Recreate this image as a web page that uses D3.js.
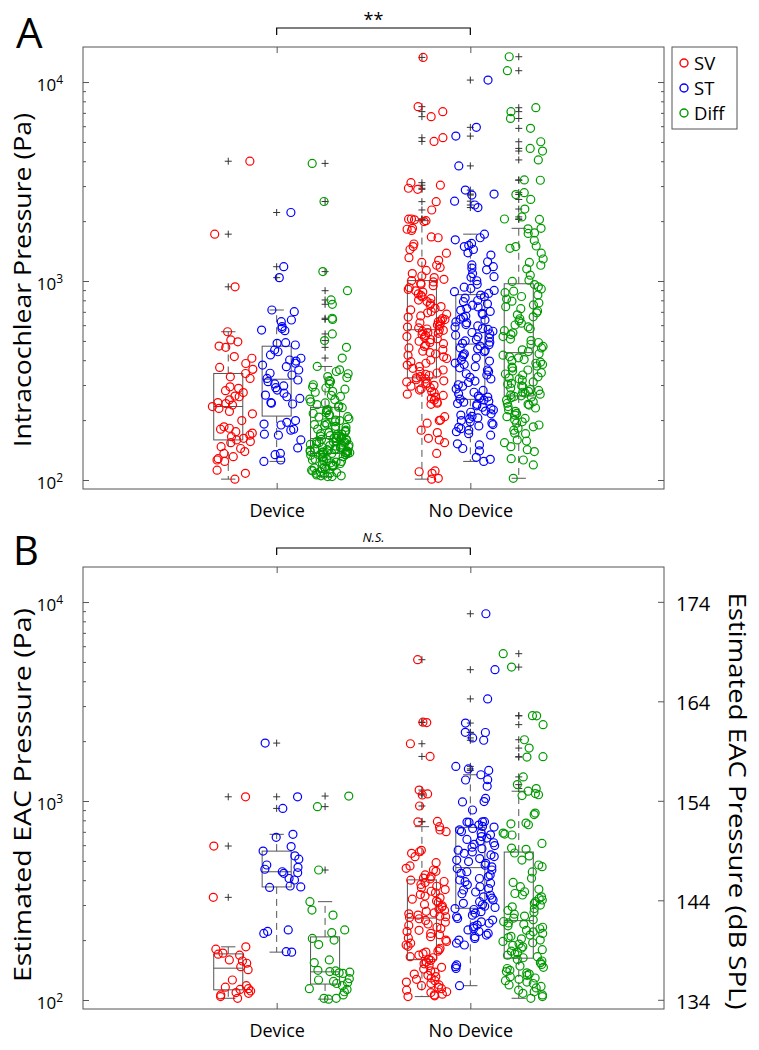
<!DOCTYPE html>
<html>
<head>
<meta charset="utf-8">
<script src="https://cdn.jsdelivr.net/npm/d3@7"></script>
<style>
  body { margin: 0; background: #fff; }
  text { font-family: "Open Sans", "DejaVu Sans", sans-serif; fill: #000; }
</style>
</head>
<body>
<svg id="fig" width="759" height="1050"></svg>
<script>
// ---- data (Pa) ----
var groups = ["Device", "No Device"];
var series = ["SV", "ST", "Diff"];
var colors = ["#ff0000", "#0000ff", "#009900"];
var yTicks = [100, 1000, 10000];
var dbTicks = [134, 144, 154, 164, 174];

// panel A : intracochlear pressure
var aDevSV = [4000, 1720, 935, 556, 506, 495, 471, 464, 417, 409, 385, 368, 360, 343, 330, 324, 294, 289, 281, 275,
  264, 262, 253, 245, 242, 238, 234, 229, 221, 215, 199, 185, 182, 180, 175, 172, 168, 165, 162, 159, 156, 154, 147,
  144, 139, 136, 131, 128, 126, 124, 112, 108, 101];
var aDevST = [2210, 1180, 1040, 715, 701, 637, 625, 590, 578, 567, 563, 490, 486, 477, 450, 441, 425, 409, 401, 396,
  386, 378, 371, 357, 344, 337, 324, 318, 312, 304, 297, 291, 283, 273, 267, 262, 257, 245, 243, 241, 199, 195, 191,
  189, 180, 178, 170, 168, 159, 145, 136, 134, 126, 124];
var aDevDiff = [3900, 2510, 1115, 894, 803, 764, 650, 641, 542, 502, 464, 410,
  372, 358, 351, 342, 331, 327, 316, 313, 304, 301, 293, 290, 286, 279, 276, 266, 263, 255, 253, 247, 244, 239, 236,
  232, 231, 226, 224, 223, 218, 216, 213, 212, 208, 207, 203, 200, 199, 196, 194, 191, 190, 188, 186, 184, 181, 180,
  178, 176, 175, 173, 171, 170, 169, 167, 166, 165, 164, 163, 162,
  161, 160, 160, 158, 157, 156, 155, 155, 154, 153, 152, 151, 150, 150, 149, 148, 147, 146, 146, 145, 144, 143, 142,
  142, 141, 140, 140, 139, 139, 138, 138, 137, 137, 137, 136, 136,
  135, 134, 133, 133, 131, 130, 129, 128, 127, 126, 125, 124, 123, 122, 121, 120, 119, 118, 117, 116, 115, 114, 113,
  112, 111, 110, 109, 108, 108, 107, 106, 105, 105, 104, 104];
var aNoSV = [13300, 7520, 7100, 6700, 5250, 5030, 3120, 3030, 2925, 2890, 2505, 2275,
  2050, 2045, 2030, 2010, 1990, 1840, 1820, 1795, 1665, 1650, 1535, 1490, 1440, 1380, 1310, 1270, 1240, 1200, 1170,
  1130, 1090, 1060, 1040, 1020, 1005,
  990, 975, 962, 948, 925, 907, 893, 880, 861, 846, 832, 815, 802, 788, 771, 757, 744, 729, 716, 703, 692, 681, 668,
  659, 647, 640, 631, 624, 617, 608, 601, 594, 587, 581, 574, 569, 565,
  558, 551, 546, 539, 533, 526, 521, 513, 507, 498, 491, 484, 477, 469, 461, 452, 444, 437, 430, 423, 416, 408, 401,
  393, 386, 378, 371, 364, 357, 351, 345, 340, 335, 331, 326, 322, 319,
  315, 311, 307, 304, 299, 296, 291, 287, 283, 278, 274, 270, 266, 261, 257, 252, 246, 243, 240, 208, 200, 199, 193,
  178, 173, 162, 159, 154, 136, 111, 110, 108, 102, 101];
var aNoST = [10230, 5920, 5350, 3790, 2863, 2735, 2704, 2520, 2410, 2340,
  1720, 1650, 1610, 1545, 1510, 1490, 1440, 1385, 1350, 1250, 1205, 1180, 1160, 1138, 1090, 1052, 1045, 1003, 962,
  931, 918, 897, 884, 866,
  850, 833, 821, 798, 787, 768, 756, 741, 727, 712, 703, 688, 679, 667, 656, 644, 636, 623, 617, 604, 595, 588, 577,
  571, 559, 551, 542, 534, 524, 517, 507, 500, 493, 486,
  478, 471, 461, 456, 447, 441, 431, 426, 417, 411, 401, 396, 387, 381, 371, 366, 357, 351, 342, 337, 328, 322, 314,
  309, 301, 296, 287, 282, 276, 271, 264, 261, 258, 255,
  252, 249, 246, 242, 240, 236, 232, 229, 225, 222, 219, 215, 212, 209, 205, 203, 199, 196, 193, 190, 187, 184, 181,
  178, 175, 171, 168, 152, 150, 144, 140, 130, 127, 124];
var aNoDiff = [13400, 11400, 7430, 7100, 6560, 5850, 5010, 4640, 4500, 4060, 3220, 3210, 2780, 2720, 2570, 2300, 2100,
  2050, 2040,
  1840, 1830, 1745, 1735, 1600, 1500, 1490, 1460, 1380, 1290, 1240, 1200, 1150, 1070, 1010, 995, 960,
  935, 912, 889, 874, 851, 836, 811, 792, 776, 758, 743, 726, 707, 692, 676, 661, 646, 631, 614, 601, 588, 576, 563,
  549, 538, 526, 511, 502, 491, 481, 469, 461, 451, 442, 431, 424,
  416, 411, 403, 398, 391, 386, 381, 374, 369, 365, 357, 353, 346, 341, 337, 330, 326, 322, 317, 311, 306, 303, 297,
  294, 290, 285, 282, 279, 276, 273, 270, 268, 265, 263, 261, 259,
  252, 247, 243, 240, 238, 234, 230, 225, 221, 216, 212, 208, 204, 200, 196, 193, 189, 185, 182, 178, 172, 171, 159,
  157, 154, 147, 142, 139, 128, 126, 119, 102];

// panel B : estimated ear canal pressure
var bDevSV = [1050, 594, 328, 185, 180, 172, 170, 168, 159, 157, 153, 147, 142, 126, 118, 116, 114, 113, 111, 109,
  108, 106, 104, 102];
var bDevST = [1955, 1050, 918, 680, 657, 590, 560, 530, 510, 477, 464, 454, 441, 436, 433, 408, 401, 374, 370, 368,
  225, 221, 216, 175, 174];
var bDevDiff = [1059, 937, 450, 312, 283, 267, 225, 218, 204, 200, 190, 159, 154, 141, 140, 139, 138, 137, 136, 128,
  126, 124, 122, 121, 118, 114, 113, 110, 106, 102, 102, 101];
var bNoSV = [5130, 2490, 2480, 1940, 1675, 1135, 1085, 1072, 944, 790, 785,
  743, 715, 701, 565, 556, 546, 525, 490, 472, 459, 450, 443, 425, 417, 410, 406,
  400, 394, 389, 381, 373, 367, 359, 352, 346, 339, 333, 326, 321, 314, 309, 302, 297, 293, 287, 282, 279, 274, 271,
  267, 264, 262, 260,
  256, 251, 246, 241, 237, 232, 229, 224, 221, 216, 213, 208, 205, 200, 197, 193, 189, 186, 182, 179, 176, 174, 171,
  168, 165, 163, 160,
  158, 155, 152, 149, 146, 143, 140, 138, 135, 133, 131, 129, 127, 125, 123, 121, 119, 118, 116, 114, 112, 110, 109,
  107, 106, 105, 104];
var bNoST = [8730, 4570, 3260, 2465, 2215, 2210, 2075, 2020, 1493, 1450, 1425,
  1355, 1280, 1275, 1186, 1030, 993, 990, 901, 787, 786, 784, 781, 757, 745, 740,
  728, 716, 702, 689, 676, 663, 651, 641, 629, 617, 606, 597, 586, 576, 566, 555, 546, 536, 526, 514, 505, 496, 486,
  476, 467, 458,
  450, 441, 433, 425, 417, 408, 401, 393, 386, 379, 371, 363, 357, 349, 342, 336, 330, 325, 318, 312, 306, 301, 296,
  292, 288, 285,
  278, 273, 267, 262, 257, 252, 247, 243, 238, 234, 229, 225, 221, 216, 212, 208, 204, 200, 193, 189, 150, 147, 144,
  118];
var bNoDiff = [5500, 4710, 2685, 2680, 2420, 2032, 1845, 1670, 1663, 1322, 1209,
  1155, 1120, 1090, 1075, 1065, 870, 855, 775, 768, 760, 690, 682, 675, 612, 580, 572,
  548, 530, 505, 477, 468, 440, 409, 390, 371, 360, 350, 343, 337, 330, 324, 318, 312, 306, 300, 294, 288, 282, 276,
  270, 264, 258, 253,
  248, 244, 240, 236, 232, 228, 224, 220, 216, 212, 209, 206, 203, 200, 197, 194, 191, 188, 185, 182, 179, 176, 173,
  170, 168, 165, 163,
  160, 157, 154, 151, 148, 146, 144, 141, 139, 137, 135, 133, 131, 129, 127, 125, 123, 121, 119, 117, 115, 112, 110,
  108, 106, 104, 102];

// ---- layout ----
var svg = d3.select("#fig");
var axisCol = "#555";
var x = d3.scaleLinear().domain([0, 3]).range([83, 664]);
var offsets = [-0.25, 0, 0.25];
var boxHalf = 0.075, capHalf = 0.037;

var panels = [
  { top: 47, bottom: 489, tag: "A", tagX: 16, ylab: "Intracochlear Pressure (Pa)", ylabY: 280, ylabLen: 334,
    sig: "**", sets: [[aDevSV, aDevST, aDevDiff], [aNoSV, aNoST, aNoDiff]], legend: true, dB: false },
  { top: 567, bottom: 1009, tag: "B", tagX: 13, ylab: "Estimated EAC Pressure (Pa)", ylabY: 795, ylabLen: 374,
    sig: "N.S.", sets: [[bDevSV, bDevST, bDevDiff], [bNoSV, bNoST, bNoDiff]], legend: false, dB: true }
];

function boxStats(vals) {
  var s = vals.slice().sort(d3.ascending);
  var q1 = d3.quantile(s, 0.25), med = d3.quantile(s, 0.5), q3 = d3.quantile(s, 0.75);
  var iqr = q3 - q1;
  var inside = s.filter(function(v) { return v >= q1 - 1.5 * iqr && v <= q3 + 1.5 * iqr; });
  return { q1: q1, med: med, q3: q3, lo: d3.min(inside), hi: d3.max(inside),
           out: s.filter(function(v) { return v < q1 - 1.5 * iqr || v > q3 + 1.5 * iqr; }) };
}

function minorTicks() {
  var t = [];
  [100, 1000].forEach(function(b) { for (var k = 2; k <= 9; k++) t.push(b * k); });
  return t;
}

// deterministic horizontal scatter (hash of the point index), position only
function spread(i, key) {
  var h = Math.sin((i + 1) * 12.9898 + key * 78.233) * 43758.5453;
  return h - Math.floor(h);
}

panels.forEach(function(p, pi) {
  var g = svg.append("g");
  var y = d3.scaleLog().domain([90.1, 15000]).range([p.bottom, p.top]);

  // frame
  g.append("rect").attr("x", x(0)).attr("y", p.top)
    .attr("width", x(3) - x(0)).attr("height", p.bottom - p.top)
    .attr("fill", "none").attr("stroke", axisCol).attr("stroke-width", 1);

  // left axis: minor + major
  g.append("g").attr("transform", "translate(" + x(0) + ",0)")
    .call(d3.axisLeft(y).tickValues(minorTicks()).tickSizeInner(-3).tickSizeOuter(0).tickFormat(""));
  var lMajor = g.append("g").attr("transform", "translate(" + x(0) + ",0)")
    .call(d3.axisLeft(y).tickValues(yTicks).tickSizeInner(-6).tickSizeOuter(0).tickPadding(20)
      .tickFormat(function() { return "10"; }));
  lMajor.selectAll(".tick text")
    .attr("dy", "0.5em").style("font-size", "17px").style("font-family", "Open Sans")
    .append("tspan").attr("dy", "-0.62em").style("font-size", "12px")
    .text(function(d) { return Math.round(Math.log10(d)); });

  // right axis
  if (!p.dB) {
    g.append("g").attr("transform", "translate(" + x(3) + ",0)")
      .call(d3.axisRight(y).tickValues(minorTicks()).tickSizeInner(-3).tickSizeOuter(0).tickFormat(""));
    g.append("g").attr("transform", "translate(" + x(3) + ",0)")
      .call(d3.axisRight(y).tickValues(yTicks).tickSizeInner(-6).tickSizeOuter(0).tickFormat(""));
  } else {
    var db = d3.scaleLinear()
      .domain([20 * Math.log10(90.1 / 2e-5), 20 * Math.log10(15000 / 2e-5)])
      .range([p.bottom, p.top]);
    var r = g.append("g").attr("transform", "translate(" + x(3) + ",0)")
      .call(d3.axisRight(db).tickValues(dbTicks).tickSizeInner(-6).tickSizeOuter(0).tickPadding(12));
    r.selectAll(".tick text").attr("dy", "0.42em").style("font-size", "20px").style("font-family", "Open Sans");
    g.append("text")
      .attr("transform", "translate(729,801) rotate(90)")
      .attr("text-anchor", "middle").style("font-size", "24px")
      .attr("textLength", 417).attr("lengthAdjust", "spacingAndGlyphs")
      .text("Estimated EAC Pressure (dB SPL)");
  }

  // x axes
  var xb = g.append("g").attr("transform", "translate(0," + p.bottom + ")")
    .call(d3.axisBottom(x).tickValues([1, 2]).tickSizeInner(-6).tickSizeOuter(0).tickPadding(15)
      .tickFormat(function(d) { return groups[d - 1]; }));
  xb.selectAll(".tick text").style("font-size", "18px").style("font-family", "Open Sans");
  g.append("g").attr("transform", "translate(0," + p.top + ")")
    .call(d3.axisTop(x).tickValues([1, 2]).tickSizeInner(-6).tickSizeOuter(0).tickFormat(""));

  g.selectAll(".domain").remove();
  g.selectAll(".tick line").attr("stroke", axisCol);

  // y label and panel tag
  g.append("text")
    .attr("transform", "translate(31," + p.ylabY + ") rotate(-90)")
    .attr("text-anchor", "middle").style("font-size", "24px")
    .attr("textLength", p.ylabLen).attr("lengthAdjust", "spacingAndGlyphs")
    .text(p.ylab);
  g.append("text").attr("x", p.tagX).attr("y", p.top + (p.dB ? -2 : 1))
    .style("font-size", p.dB ? "40px" : "42px").text(p.tag);

  // significance bracket
  g.append("path")
    .attr("d", "M" + x(1) + "," + (p.top - 12) + "V" + (p.top - 19) + "H" + x(2) + "V" + (p.top - 12))
    .attr("fill", "none").attr("stroke", "#000").attr("stroke-width", 1.2);
  g.append("text").attr("x", (x(1) + x(2)) / 2).attr("y", p.dB ? p.top - 25 : p.top - 21)
    .attr("text-anchor", "middle")
    .style("font-size", p.dB ? "13px" : "18px").style("font-style", p.dB ? "italic" : "normal")
    .text(p.sig);

  // box plots + scattered points
  p.sets.forEach(function(grp, gi) {
    grp.forEach(function(vals, si) {
      var c = gi + 1 + offsets[si];
      var st = boxStats(vals);
      var bx = g.append("g").attr("stroke", axisCol).attr("fill", "none").attr("stroke-width", 1);
      bx.append("rect").attr("x", x(c - boxHalf)).attr("y", y(st.q3))
        .attr("width", x(c + boxHalf) - x(c - boxHalf)).attr("height", y(st.q1) - y(st.q3));
      bx.append("line").attr("x1", x(c - boxHalf)).attr("x2", x(c + boxHalf))
        .attr("y1", y(st.med)).attr("y2", y(st.med));
      [[st.q3, st.hi], [st.q1, st.lo]].forEach(function(w) {
        bx.append("line").attr("x1", x(c)).attr("x2", x(c)).attr("y1", y(w[0])).attr("y2", y(w[1]))
          .attr("stroke-dasharray", "7,5");
        bx.append("line").attr("x1", x(c - capHalf)).attr("x2", x(c + capHalf))
          .attr("y1", y(w[1])).attr("y2", y(w[1]));
      });
      g.selectAll(null).data(st.out).enter().append("path")
        .attr("transform", function(v) { return "translate(" + x(c) + "," + y(v) + ")"; })
        .attr("d", "M-3.5,0H3.5M0,-3.5V3.5")
        .attr("stroke", "#333").attr("stroke-width", 1);
      var key = pi * 6 + gi * 3 + si;
      g.selectAll(null).data(vals).enter().append("circle")
        .attr("cx", function(v, i) { return x(c + 0.023 + (spread(i, key) - 0.5) * 0.21); })
        .attr("cy", function(v) { return y(v); })
        .attr("r", 4)
        .attr("fill", "none").attr("stroke", colors[si]).attr("stroke-width", 1.2);
    });
  });

  // legend
  if (p.legend) {
    var lg = g.append("g");
    lg.append("rect").attr("x", 672).attr("y", p.top).attr("width", 65).attr("height", 82)
      .attr("fill", "#fff").attr("stroke", axisCol);
    series.forEach(function(s, i) {
      lg.append("circle").attr("cx", 684).attr("cy", p.top + 16 + i * 25).attr("r", 4)
        .attr("fill", "none").attr("stroke", colors[i]).attr("stroke-width", 1.4);
      lg.append("text").attr("x", 694).attr("y", p.top + 23 + i * 25)
        .style("font-size", "18.5px").text(s);
    });
  }
});
</script>
</body>
</html>
